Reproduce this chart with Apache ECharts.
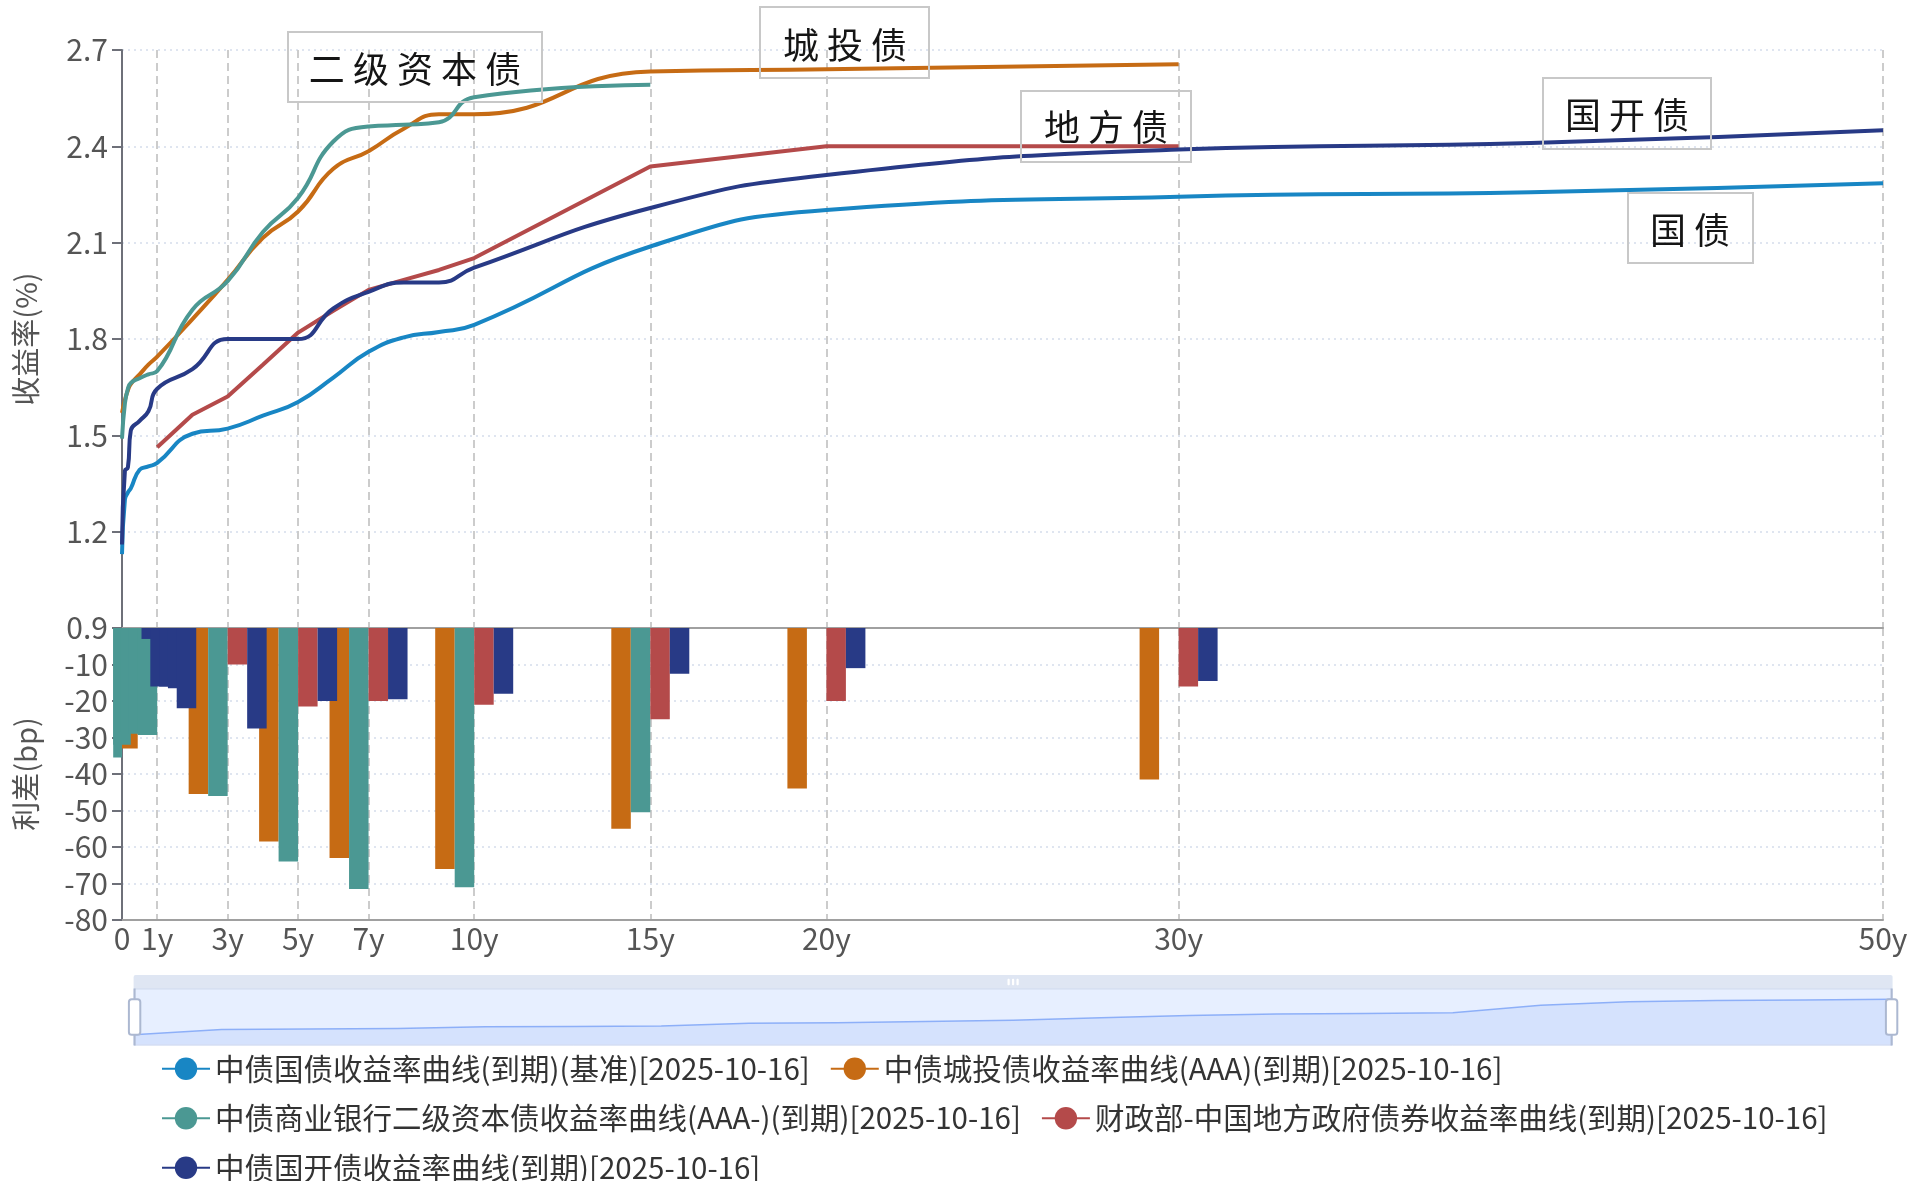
<!DOCTYPE html>
<html>
<head>
<meta charset="utf-8">
<script src="https://cdn.jsdelivr.net/npm/echarts@6/dist/echarts.min.js"></script>
<style>
html,body{margin:0;padding:0;background:#fff;}
#chart{width:1911px;height:1181px;}
</style>
</head>
<body>
<div id="chart"></div>
<script>
// ---------- data (years to maturity / yields in % / spreads in bp) ----------
const tenors = [0, 0.083, 0.167, 0.25, 0.5, 0.75, 1, 2, 3, 4, 5, 6, 7, 8, 9, 10, 15, 20, 30, 40, 50];
const govYield   = [1.13, 1.30, 1.322, 1.335, 1.393, 1.403, 1.414, 1.505, 1.521, 1.561, 1.604, 1.68, 1.76, 1.805, 1.822, 1.844, 2.088, 2.202, 2.243, 2.257, 2.285];
const cityYield  = [1.57, 1.61, 1.64, 1.66, 1.69, 1.72, 1.745, 1.862, 1.984, 2.115, 2.197, 2.33, 2.385, 2.455, 2.50, 2.50, 2.633, 2.64, 2.656, null, null];
const bankYield  = [1.49, 1.60, 1.645, 1.663, 1.678, 1.69, 1.70, 1.891, 1.98, 2.133, 2.24, 2.415, 2.462, 2.467, 2.475, 2.553, 2.592, null, null, null, null];
const localYield = [null, null, null, null, null, null, 1.463, 1.564, 1.621, 1.72, 1.82, 1.888, 1.953, 1.984, 2.015, 2.052, 2.337, 2.40, 2.40, null, null];
const cdbYield   = [1.16, 1.39, 1.40, 1.515, 1.545, 1.575, 1.645, 1.706, 1.80, 1.80, 1.80, 1.895, 1.947, 1.976, 1.976, 2.022, 2.208, 2.311, 2.39, 2.41, 2.45];

const barTenors   = [0, 0.25, 0.5, 0.75, 1, 3, 5, 7, 10, 15, 20, 30];
const citySpread  = [null, null, null, null, -33, -45.5, -58.5, -63, -66, -55, -44, -41.5];
const bankSpread  = [-35.5, -32, -28.5, -29, -29.3, -46, -64, -71.5, -71, -50.5, null, null];
const localSpread = [null, null, null, null, -5, -10, -21.5, -20, -21, -25, -20, -16];
const cdbSpread   = [-3, -16, -16, -16.5, -22, -27.5, -20, -19.5, -18, -12.5, -11, -14.5];

const xTickValues = [0, 1, 3, 5, 7, 10, 15, 20, 30, 50];

const seriesNames = [
  '中债国债收益率曲线(到期)(基准)[2025-10-16]',
  '中债城投债收益率曲线(AAA)(到期)[2025-10-16]',
  '中债商业银行二级资本债收益率曲线(AAA-)(到期)[2025-10-16]',
  '财政部-中国地方政府债券收益率曲线(到期)[2025-10-16]',
  '中债国开债收益率曲线(到期)[2025-10-16]'
];
const spreadNames = ['城投债利差', '二级资本债利差', '地方债利差', '国开债利差'];
const annotationTexts = ['二 级 资 本 债', '城 投 债', '地 方 债', '国 开 债', '国 债'];

// ---------- styling ----------
const colors = ['#1886c4', '#c66b14', '#4b9893', '#b44a4a', '#283a86'];
const FONT = "'Noto Sans CJK SC', 'Noto Sans', sans-serif";

function pairs(xs, ys) {
  const out = [];
  xs.forEach((x, i) => { if (ys[i] !== null && ys[i] !== undefined) out.push([x, ys[i]]); });
  return out;
}

const yieldArrays = [govYield, cityYield, bankYield, localYield, cdbYield];
const spreadArrays = [citySpread, bankSpread, localSpread, cdbSpread];

const lineSeries = yieldArrays.map((arr, i) => ({
  name: seriesNames[i],
  type: 'line',
  xAxisIndex: 0,
  yAxisIndex: 0,
  data: pairs(tenors, arr),
  smooth: i === 3 ? false : true,
  symbol: 'circle',
  symbolSize: 8,
  showSymbol: false,
  color: colors[i],
  lineStyle: { width: 4, color: colors[i] },
  z: 3
}));

const barSeries = spreadArrays.map((arr, i) => ({
  name: spreadNames[i],
  type: 'bar',
  xAxisIndex: 1,
  yAxisIndex: 1,
  data: pairs(barTenors, arr),
  barWidth: 19.5,
  barGap: '0%',
  color: colors[i + 1],
  itemStyle: { color: colors[i + 1] }
}));

// annotation boxes (pixel layout)
const boxes = [
  { rect: [288, 32, 254, 70], c: [415, 69] },
  { rect: [760, 7, 169, 71], c: [845, 45] },
  { rect: [1021, 91, 170, 71], c: [1106, 127] },
  { rect: [1543, 78, 168, 71], c: [1627, 115] },
  { rect: [1628, 193, 125, 70], c: [1690, 230] }
];
const graphics = [];
boxes.forEach((b, i) => {
  graphics.push({
    type: 'rect', z: 100,
    shape: { x: b.rect[0], y: b.rect[1], width: b.rect[2], height: b.rect[3] },
    style: { fill: 'rgba(0,0,0,0)', stroke: '#c8c8c8', lineWidth: 2 }
  });
  graphics.push({
    type: 'text', z: 101,
    x: b.c[0], y: b.c[1],
    style: { text: annotationTexts[i], font: "36px " + FONT, fill: '#151515', align: 'center', verticalAlign: 'middle' }
  });
});

const axisLabelColor = '#555';
const option = {
  animation: false,
  backgroundColor: '#fff',
  textStyle: { fontFamily: FONT },
  grid: [
    { left: 122, right: 28, top: 50, height: 578 },
    { left: 122, right: 28, top: 628, height: 292 }
  ],
  xAxis: [
    {
      type: 'value', gridIndex: 0, min: 0, max: 50,
      axisLine: { show: true, onZero: false, lineStyle: { color: '#a0a0a0', width: 2 } },
      axisTick: { show: false, customValues: xTickValues },
      axisLabel: { show: false, customValues: xTickValues },
      splitLine: { show: true, lineStyle: { color: '#cccccc', width: 2, type: [8, 5] } }
    },
    {
      type: 'value', gridIndex: 1, min: 0, max: 50,
      axisLine: { show: true, onZero: false, lineStyle: { color: '#a0a0a0', width: 2 } },
      axisTick: { show: false, customValues: xTickValues },
      axisLabel: {
        show: true, customValues: xTickValues, fontSize: 30, color: axisLabelColor, margin: 4,
        formatter: v => (v === 0 ? '0' : v + 'y')
      },
      splitLine: { show: true, lineStyle: { color: '#cccccc', width: 2, type: [8, 5] } }
    }
  ],
  yAxis: [
    {
      type: 'value', gridIndex: 0, min: 0.9, max: 2.7, interval: 0.3,
      name: '收益率(%)', nameLocation: 'middle', nameGap: 82,
      nameTextStyle: { fontSize: 29, color: axisLabelColor },
      axisLine: { show: true, lineStyle: { color: '#6e7079', width: 2 } },
      axisTick: { show: true, length: 10, lineStyle: { color: '#6e7079', width: 2 } },
      axisLabel: { fontSize: 30, color: axisLabelColor, margin: 14, formatter: v => Number(v).toFixed(1) },
      splitLine: { show: true, lineStyle: { color: '#dfe5f0', width: 2, type: [2, 4] } }
    },
    {
      type: 'value', gridIndex: 1, min: -80, max: 0, interval: 10,
      name: '利差(bp)', nameLocation: 'middle', nameGap: 82,
      nameTextStyle: { fontSize: 29, color: axisLabelColor },
      axisLine: { show: true, lineStyle: { color: '#6e7079', width: 2 } },
      axisTick: { show: true, length: 10, lineStyle: { color: '#6e7079', width: 2 } },
      axisLabel: { fontSize: 30, color: axisLabelColor, margin: 14, showMaxLabel: false },
      splitLine: { show: true, lineStyle: { color: '#dfe5f0', width: 2, type: [2, 4] } }
    }
  ],
  legend: {
    data: seriesNames,
    left: 156, top: 1049, width: 1745,
    itemWidth: 48, itemHeight: 28, itemGap: 20,
    textStyle: { fontSize: 29.5, lineHeight: 28, color: '#333' }
  },
  dataZoom: [{
    type: 'slider', xAxisIndex: [0, 1], start: 0, end: 100,
    left: 128, right: 24, top: 975, height: 57,
    showDetail: false, showDataShadow: true,
    moveHandleSize: 14,
    borderColor: '#d2dbee',
    fillerColor: 'rgba(135,175,274,0.2)',
    backgroundColor: 'rgba(47,69,84,0)',
    dataBackground: { lineStyle: { color: '#d2dbee', width: 1 }, areaStyle: { color: '#d2dbee', opacity: 0.2 } },
    selectedDataBackground: { lineStyle: { color: '#8fb0f7', width: 1.5 }, areaStyle: { color: '#8fb0f7', opacity: 0.2 } },
    handleStyle: { color: '#fff', borderColor: '#acb8d1', borderWidth: 2 },
    moveHandleStyle: { color: '#d2dbee', opacity: 0.7 },
    handleSize: '100%'
  }],
  graphic: graphics,
  series: lineSeries.concat(barSeries)
};

const chart = echarts.init(document.getElementById('chart'), null, { renderer: 'canvas', width: 1911, height: 1181 });
chart.setOption(option);
</script>
</body>
</html>
